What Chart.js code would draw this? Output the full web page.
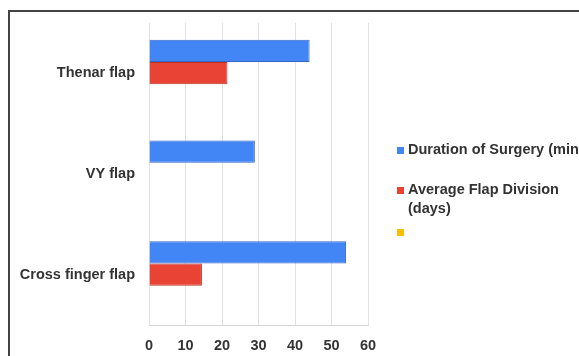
<!DOCTYPE html>
<html>
<head>
<meta charset="utf-8">
<script src="https://cdn.jsdelivr.net/npm/chart.js@4/dist/chart.umd.min.js"></script>
<style>
  html, body { margin: 0; padding: 0; background: #fff; overflow: hidden; }
  #wrap { position: relative; width: 579px; height: 356px; }
  #frame { position: absolute; left: 8px; top: 10px; width: 800px; height: 600px; border: 2px solid #444; }
  canvas { position: absolute; left: 0; top: 0; }
</style>
</head>
<body>
<div id="wrap">
  <div id="frame"></div>
  <canvas id="chart" width="579" height="356"></canvas>
</div>
<script>
// values
const flapTypes = ['Thenar flap', 'VY flap', 'Cross finger flap'];
const surgeryDuration = [44, 29, 54];
const flapDivision = [21.5, null, 14.5];
const seriesLabels = [
  ['Duration of Surgery (minutes)'],
  ['Average Flap Division', '(days)'],
  ['']
];
const xTicks = [0, 10, 20, 30, 40, 50, 60];

const FONT = { family: '"Liberation Sans", Arial, sans-serif', size: 14.5, weight: 'bold' };
const TEXT = '#333';

// legend on the right, drawn from the dataset labels/colours
const sideLegend = {
  id: 'sideLegend',
  afterDraw(chart) {
    const ctx = chart.ctx;
    const rows = [150, 190, 232];
    ctx.save();
    ctx.font = `${FONT.weight} ${FONT.size}px ${FONT.family}`;
    ctx.textBaseline = 'middle';
    chart.data.datasets.forEach((ds, i) => {
      const y = rows[i];
      ctx.fillStyle = ds.backgroundColor;
      ctx.fillRect(397, y - 3, 7, 7);
      ctx.fillStyle = TEXT;
      seriesLabels[i].forEach((line, j) => {
        ctx.fillText(line, 408, y + j * 19);
      });
    });
    ctx.restore();
  }
};

new Chart(document.getElementById('chart'), {
  type: 'bar',
  data: {
    labels: flapTypes,
    datasets: [
      {
        label: seriesLabels[0].join(' '),
        data: surgeryDuration,
        backgroundColor: '#4285f4',
        borderColor: '#3566c4',
        borderWidth: 1,
      },
      {
        label: seriesLabels[1].join(' '),
        data: flapDivision,
        backgroundColor: '#e94335',
        borderColor: '#b8352a',
        borderWidth: 1,
      },
      {
        label: seriesLabels[2].join(' '),
        data: [],
        backgroundColor: '#fbbc04',
      },
    ],
  },
  options: {
    indexAxis: 'y',
    responsive: false,
    animation: false,
    layout: { padding: { left: 0, right: 211, top: 20, bottom: 0 } },
    datasets: {
      bar: { categoryPercentage: 0.664, barPercentage: 1 },
    },
    scales: {
      x: {
        min: 0,
        max: 60,
        afterBuildTicks: (scale) => { scale.ticks = xTicks.map(v => ({ value: v })); },
        afterFit: (scale) => { scale.height = 31; },
        ticks: { color: TEXT, font: FONT, padding: 12 },
        grid: { color: '#e2e2e2', drawTicks: false },
        border: { color: '#d6d6d6' },
      },
      y: {
        afterFit: (scale) => { scale.width = 149; },
        ticks: { color: TEXT, font: FONT, padding: 14 },
        grid: { display: false, drawTicks: false },
        border: { display: false },
      },
    },
    plugins: {
      legend: { display: false },
      tooltip: { enabled: false },
    },
  },
  plugins: [sideLegend],
});
</script>
</body>
</html>
